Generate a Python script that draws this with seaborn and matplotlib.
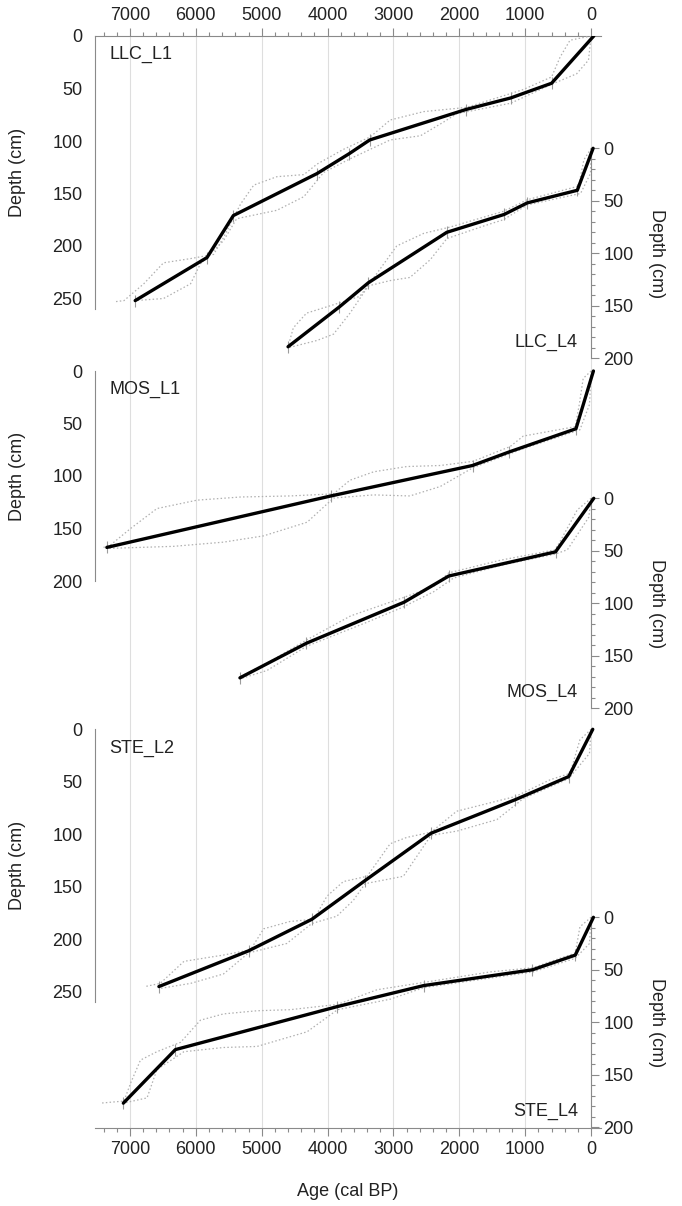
import numpy as np
import pandas as pd
import matplotlib
matplotlib.use("Agg")
import matplotlib.pyplot as plt
import matplotlib.transforms as mtransforms
from matplotlib.ticker import FixedLocator
import seaborn as sns

# ---- age-depth models (age in cal BP, depth in cm) ----
llc_l1_age = [-40, 600, 1220, 1900, 3360, 3670, 4160, 5430, 5830, 6920]
llc_l1_depth = [0, 45, 59, 70, 99, 112, 131, 171, 211, 252]
llc_l1_old_age = [0, 320, 470, 600, 1030, 1890, 2540, 3050, 3350, 3760, 4160, 4360, 4770, 5120, 5320, 5580, 5730, 6080, 6490, 6790, 7090, 7220]
llc_l1_old_depth = [0, 4, 20, 39, 51, 68, 72, 80, 96, 108, 122, 132, 134, 142, 160, 192, 208, 212, 216, 236, 252, 253]
llc_l1_young_age = [0, 40, 220, 600, 1220, 2040, 2240, 2590, 3050, 3660, 4060, 4360, 4770, 5380, 5580, 5930, 6080, 6490, 6920]
llc_l1_young_depth = [0, 23, 36, 46, 64, 74, 82, 95, 99, 117, 130, 153, 166, 174, 195, 217, 236, 250, 252]

llc_l4_age = [-30, 210, 970, 1320, 2190, 3380, 3820, 4600]
llc_l4_depth = [0, 40, 52, 63, 80, 128, 151, 189]
llc_l4_old_age = [0, 110, 190, 970, 1330, 2140, 2540, 2950, 3250, 3510, 3910, 4320, 4520, 4600]
llc_l4_old_depth = [0, 11, 36, 49, 60, 75, 81, 93, 119, 141, 149, 157, 171, 189]
llc_l4_young_age = [0, 10, 160, 970, 1330, 1630, 2190, 2440, 2750, 3050, 3380, 3660, 3910, 4160, 4600]
llc_l4_young_depth = [0, 24, 43, 54, 68, 74, 86, 106, 123, 126, 131, 157, 177, 183, 190]

mos_l1_age = [-35, 230, 1240, 1800, 3950, 7350]
mos_l1_depth = [0, 55, 77, 90, 119, 168]
mos_l1_old_age = [0, 120, 180, 240, 1030, 1230, 1790, 2290, 2800, 3300, 3660, 3910, 4570, 5320, 5980, 6590, 6990, 7300, 7400]
mos_l1_old_depth = [0, 7, 32, 53, 62, 72, 86, 90, 91, 96, 104, 117, 119, 120, 123, 131, 150, 166, 168]
mos_l1_young_age = [0, 25, 170, 1030, 1790, 2290, 2750, 3300, 3910, 4310, 4970, 5580, 6340, 7350]
mos_l1_young_depth = [0, 32, 56, 74, 92, 110, 119, 118, 121, 144, 157, 163, 167, 169]

mos_l4_age = [-40, 540, 2160, 2840, 4320, 5330]
mos_l4_depth = [0, 51, 74, 99, 138, 171]
mos_l4_old_age = [0, 210, 540, 1380, 2160, 2390, 2870, 3650, 4320, 4920, 5330]
mos_l4_old_depth = [0, 11, 49, 59, 71, 84, 95, 112, 135, 157, 170]
mos_l4_young_age = [0, 35, 360, 540, 1380, 2090, 2390, 2870, 3400, 4320, 4920, 5330]
mos_l4_young_depth = [0, 18, 49, 53, 64, 76, 89, 104, 118, 141, 164, 172]

ste_l2_age = [-25, 340, 1150, 2430, 3430, 4240, 5200, 6560]
ste_l2_depth = [0, 45, 67, 99, 144, 181, 211, 245]
ste_l2_old_age = [0, 170, 320, 620, 1150, 2040, 2430, 2800, 3050, 3400, 3760, 4010, 4210, 4570, 4970, 5170, 5580, 6180, 6540, 6770]
ste_l2_old_depth = [0, 10, 42, 48, 64, 78, 98, 103, 109, 140, 145, 159, 181, 183, 190, 210, 215, 221, 242, 245]
ste_l2_young_age = [0, 25, 340, 1030, 1430, 2040, 2430, 2850, 3430, 3610, 3860, 4240, 4620, 5200, 5580, 6080, 6560]
ste_l2_young_depth = [0, 23, 47, 66, 86, 97, 101, 140, 147, 163, 178, 185, 204, 213, 233, 242, 247]

ste_l4_age = [-35, 240, 890, 2540, 3850, 6310, 7100]
ste_l4_depth = [0, 36, 50, 65, 85, 126, 177]
ste_l4_old_age = [0, 170, 240, 880, 1530, 2540, 3250, 3850, 4570, 5070, 5580, 5930, 6230, 6590, 6840, 6990, 7090, 7450]
ste_l4_old_depth = [0, 9, 34, 48, 52, 62, 69, 83, 88, 89, 92, 98, 119, 128, 136, 158, 175, 177]
ste_l4_young_age = [0, 25, 240, 880, 2540, 3050, 3850, 4310, 5070, 5580, 6180, 6590, 6740, 7100]
ste_l4_young_depth = [0, 25, 39, 52, 67, 78, 88, 109, 123, 124, 128, 145, 172, 177]

age_ticks = [0, 1000, 2000, 3000, 4000, 5000, 6000, 7000]

# name, side, zero pixel row, spine length (cm), data arrays
cores = [
    ("LLC_L1", "left", 36.0, 260, llc_l1_age, llc_l1_depth, llc_l1_old_age, llc_l1_old_depth, llc_l1_young_age, llc_l1_young_depth),
    ("LLC_L4", "right", 148.3, 200, llc_l4_age, llc_l4_depth, llc_l4_old_age, llc_l4_old_depth, llc_l4_young_age, llc_l4_young_depth),
    ("MOS_L1", "left", 371.0, 200, mos_l1_age, mos_l1_depth, mos_l1_old_age, mos_l1_old_depth, mos_l1_young_age, mos_l1_young_depth),
    ("MOS_L4", "right", 498.3, 200, mos_l4_age, mos_l4_depth, mos_l4_old_age, mos_l4_old_depth, mos_l4_young_age, mos_l4_young_depth),
    ("STE_L2", "left", 729.3, 260, ste_l2_age, ste_l2_depth, ste_l2_old_age, ste_l2_old_depth, ste_l2_young_age, ste_l2_young_depth),
    ("STE_L4", "right", 917.3, 200, ste_l4_age, ste_l4_depth, ste_l4_old_age, ste_l4_old_depth, ste_l4_young_age, ste_l4_young_depth),
]

sns.set_theme(style="white")
plt.rcParams["font.family"] = ["Liberation Sans", "DejaVu Sans"]

AXC = "#8a8a8a"
TXC = "#222222"
FS = 13

W, H = 682, 1206
fig = plt.figure(figsize=(W / 100, H / 100), dpi=100)
X0, X1 = 95, 601
Y0, Y1 = 36.0, 1128.3
PX_CM = 1.05
rect = [X0 / W, 1 - Y1 / H, (X1 - X0) / W, (Y1 - Y0) / H]
XLIM = (7530, -150)

base = fig.add_axes(rect)
base.set_xlim(*XLIM)
base.set_yticks([])
base.xaxis.set_major_locator(FixedLocator(age_ticks))
base.xaxis.set_minor_locator(FixedLocator(np.arange(0, 7600, 200)))
base.tick_params(axis="x", which="both", top=True, labeltop=True, bottom=True,
                 labelbottom=True, direction="out", color=AXC, labelcolor=TXC,
                 labelsize=FS, width=0.8, pad=3)
base.tick_params(axis="x", which="major", length=6)
base.tick_params(axis="x", which="minor", length=3)
base.grid(axis="x", which="major", color="#dedede", lw=0.8)
for s in ["left", "right"]:
    base.spines[s].set_visible(False)
for s in ["top", "bottom"]:
    base.spines[s].set_color(AXC)
    base.spines[s].set_linewidth(0.8)

for name, side, zero_px, bound, age, depth, oa, od, ya, yd in cores:
    ax = fig.add_axes(rect)
    ax.patch.set_alpha(0)
    ax.set_xlim(*XLIM)
    ax.set_ylim((Y1 - zero_px) / PX_CM, -(zero_px - Y0) / PX_CM)
    ax.xaxis.set_visible(False)
    for s in ax.spines.values():
        s.set_visible(False)
    sp = ax.spines[side]
    sp.set_visible(True)
    sp.set_color(AXC)
    sp.set_linewidth(0.8)
    sp.set_bounds(0, bound)
    if side == "right":
        ax.yaxis.tick_right()
        sp.set_position(("data", 0))
    ax.yaxis.set_major_locator(FixedLocator(np.arange(0, bound + 1, 50)))
    ax.yaxis.set_minor_locator(FixedLocator(np.arange(0, bound + 1, 10)))
    ax.tick_params(axis="y", which="both", direction="out", color=AXC,
                   labelcolor=TXC, labelsize=FS, width=0.8, pad=3)
    ax.tick_params(axis="y", which="major", length=6)
    ax.tick_params(axis="y", which="minor", length=3)

    sns.lineplot(x=oa, y=od, sort=False, estimator=None, ax=ax, color="#b0b0b0",
                 lw=0.9, linestyle=(0, (1.2, 1.8)), zorder=2)
    sns.lineplot(x=ya, y=yd, sort=False, estimator=None, ax=ax, color="#b0b0b0",
                 lw=0.9, linestyle=(0, (1.2, 1.8)), zorder=2)
    ax.plot(age[1:], depth[1:], ls="none", marker="|", ms=9, mew=0.8,
            color="#9c9c9c", zorder=3)
    sns.lineplot(x=age, y=depth, sort=False, estimator=None, ax=ax, color="black",
                 lw=2.4, zorder=4)
    ax.set_xlabel("")
    ax.set_ylabel("")

    blend = mtransforms.blended_transform_factory(ax.transAxes, ax.transData)
    if side == "left":
        ax.text(0.028, 18, name, transform=blend, ha="left", va="center",
                fontsize=FS, color=TXC)
        ax.text((18 - X0) / (X1 - X0), bound / 2, "Depth (cm)", transform=blend,
                rotation=90, ha="center", va="center", fontsize=FS, color=TXC)
    else:
        ax.text((578 - X0) / (X1 - X0), 185, name, transform=blend, ha="right",
                va="center", fontsize=FS, color=TXC)
        ax.text((656 - X0) / (X1 - X0), bound / 2, "Depth (cm)", transform=blend,
                rotation=270, ha="center", va="center", fontsize=FS, color=TXC)

fig.text((X0 + X1) / 2 / W, 1 - 1191 / H, "Age (cal BP)", ha="center", va="center",
         fontsize=FS, color=TXC)

fig.savefig("out.png", dpi=100)
